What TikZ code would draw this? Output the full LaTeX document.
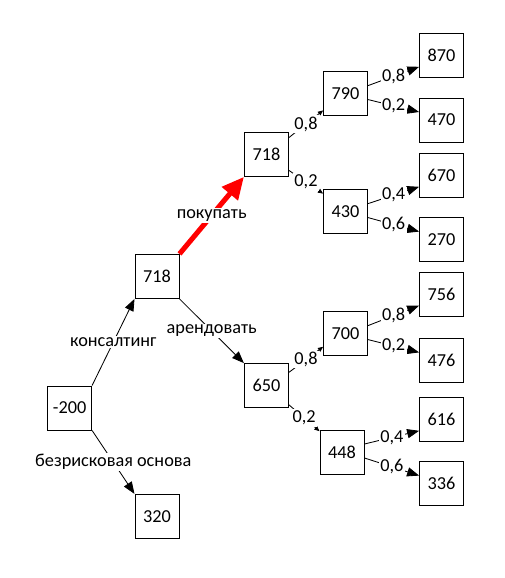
\documentclass[tikz,border=0pt]{standalone}
\usepackage{fontspec}
\setmainfont{Carlito}
\usetikzlibrary{arrows.meta}

\begin{document}
\begin{tikzpicture}[
  font=\fontsize{13}{15}\selectfont,
  box/.style={draw, line width=0.7pt, minimum size=1.1cm, inner sep=0pt},
  edge/.style={line width=0.6pt, -{Triangle[length=3mm, width=2.3mm]}},
  stub/.style={line width=0.6pt, -{Triangle[length=1.3mm, width=1.1mm]}},
  lbl/.style={fill=white, inner sep=1pt}
]
  \useasboundingbox (0,0) rectangle (12.625,14.45);
  % Исходные узлы
  \node[box] (s0) at (1.74,4.25) {-200};
  \node[box] (rf) at (3.925,1.54) {320};
  \node[box] (kons) at (3.925,7.54) {718};
  % Покупать / арендовать
  \node[box] (buy) at (6.66,10.59) {718};
  \node[box] (rent) at (6.66,4.81) {650};
  \node[box] (b8) at (8.64,12.11) {790};
  \node[box] (b2) at (8.64,9.16) {430};
  \node[box] (r8) at (8.64,6.11) {700};
  \node[box] (r2) at (8.55,3.15) {448};
  % Листья
  \node[box] (l1) at (11.04,13.06) {870};
  \node[box] (l2) at (11.04,11.45) {470};
  \node[box] (l3) at (11.04,10.06) {670};
  \node[box] (l4) at (11.04,8.46) {270};
  \node[box] (l5) at (11.04,7.09) {756};
  \node[box] (l6) at (11.04,5.44) {476};
  \node[box] (l7) at (11.04,3.96) {616};
  \node[box] (l8) at (11.04,2.36) {336};
  % Первые решения
  \draw[edge] (s0.north east) -- node[lbl] {консалтинг} (kons.south west);
  \draw[edge] (s0.south east) -- node[lbl] {безрисковая основа} (rf.north west);
  \draw[edge] (kons.south east) -- node[lbl] {арендовать} (rent.north west);
  % Лучший вариант
  \draw[red, line width=3.6pt, -{Triangle[length=5.5mm, width=5mm]}]
    (kons.north east) -- node[lbl, text=black] {покупать} (buy.south west);
  % Вероятности
  \draw[stub] ([yshift=0.42cm]buy.east) -- node[lbl] {0,8} ([yshift=-0.42cm]b8.west);
  \draw[stub] ([yshift=-0.4cm]buy.east) -- node[lbl] {0,2} ([yshift=0.45cm]b2.west);
  \draw[stub] ([yshift=0.33cm]rent.east) -- node[lbl] {0,8} ([yshift=-0.33cm]r8.west);
  \draw[stub] ([yshift=-0.48cm]rent.east) -- node[lbl] {0,2} ([yshift=0.52cm]r2.west);
  \draw[edge] ([yshift=0.2cm]b8.east) -- node[lbl] {0,8} ([yshift=-0.28cm]l1.west);
  \draw[edge] ([yshift=-0.15cm]b8.east) -- node[lbl] {0,2} ([yshift=0.2cm]l2.west);
  \draw[edge] ([yshift=0.2cm]b2.east) -- node[lbl] {0,4} ([yshift=-0.28cm]l3.west);
  \draw[edge] ([yshift=-0.15cm]b2.east) -- node[lbl] {0,6} ([yshift=0.2cm]l4.west);
  \draw[edge] ([yshift=0.2cm]r8.east) -- node[lbl] {0,8} ([yshift=-0.28cm]l5.west);
  \draw[edge] ([yshift=-0.15cm]r8.east) -- node[lbl] {0,2} ([yshift=0.2cm]l6.west);
  \draw[edge] ([yshift=0.2cm]r2.east) -- node[lbl] {0,4} ([yshift=-0.28cm]l7.west);
  \draw[edge] ([yshift=-0.15cm]r2.east) -- node[lbl] {0,6} ([yshift=0.2cm]l8.west);
\end{tikzpicture}
\end{document}
